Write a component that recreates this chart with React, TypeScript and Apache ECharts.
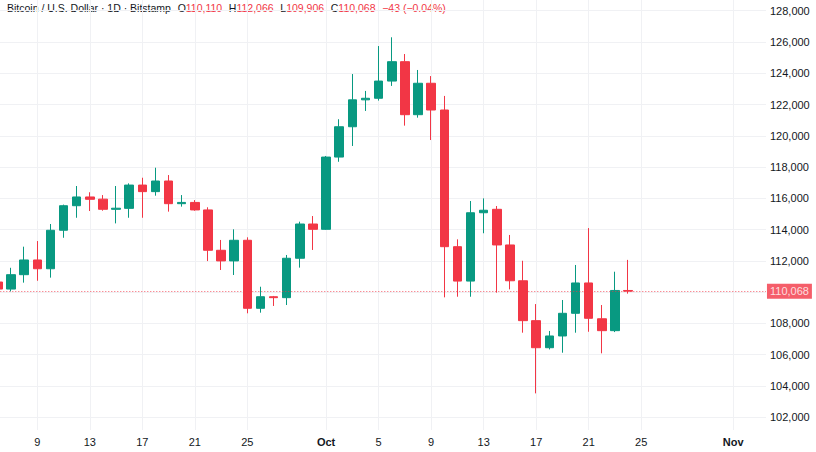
import React, { useEffect, useRef } from "react";
import * as echarts from "echarts";

// ---- data ----
const candleDates = [
  "2025-09-06","2025-09-07","2025-09-08","2025-09-09","2025-09-10","2025-09-11","2025-09-12",
  "2025-09-13","2025-09-14","2025-09-15","2025-09-16","2025-09-17","2025-09-18","2025-09-19",
  "2025-09-20","2025-09-21","2025-09-22","2025-09-23","2025-09-24","2025-09-25","2025-09-26",
  "2025-09-27","2025-09-28","2025-09-29","2025-09-30","2025-10-01","2025-10-02","2025-10-03",
  "2025-10-04","2025-10-05","2025-10-06","2025-10-07","2025-10-08","2025-10-09","2025-10-10",
  "2025-10-11","2025-10-12","2025-10-13","2025-10-14","2025-10-15","2025-10-16","2025-10-17",
  "2025-10-18","2025-10-19","2025-10-20","2025-10-21","2025-10-22","2025-10-23","2025-10-24",
];
const opens = [
  110650,110200,111120,112060,111500,113960,115530,
  116090,115950,115300,115360,116850,116430,117110,
  115660,115740,115260,112680,112000,113320,108970,
  109710,109650,112170,114360,114020,118640,120580,
  122300,122400,123500,124740,121350,123360,121650,
  112910,110710,115080,115300,113020,110730,108180,
  106450,107200,108650,110590,108300,107540,110110,
];
const closes = [
  110200,111120,112060,111500,113960,115530,116090,
  115940,115300,115370,116850,116430,117110,115660,
  115740,115260,112680,112000,113320,108970,109710,
  109650,112170,114360,114020,118640,120580,122300,
  122400,123500,124740,121350,123360,121650,112910,
  110710,115080,115240,113020,110730,108180,106450,
  107200,108650,110590,108330,107540,110111,110068,
];
const lows = [
  110000,110050,110610,110730,110930,113480,114760,
  115190,115210,114400,114760,114760,116170,115150,
  115470,115210,111990,111420,111100,108650,108690,
  109120,109180,111570,112700,113990,118340,119350,
  121590,122250,123190,120650,121160,119730,109670,
  109710,109710,113770,109970,110180,107410,103530,
  106340,106130,107410,107470,106090,107450,109906,
];
const highs = [
  110900,111560,112910,113270,114360,115600,116790,
  116390,116210,116790,116960,117320,117960,117490,
  116210,115890,115430,113340,114020,113510,110350,
  109760,112380,114510,114870,118710,121060,123950,
  122870,125740,126300,125230,124210,123820,122550,
  113380,115830,116000,115510,113660,112010,109240,
  107520,109500,111740,114100,109180,111310,112066,
];
const axisStart = "2025-09-06";
const axisEnd = "2025-11-03";
const tickDates = [
  "2025-09-09","2025-09-13","2025-09-17","2025-09-21","2025-09-25",
  "2025-10-01","2025-10-05","2025-10-09","2025-10-13","2025-10-17",
  "2025-10-21","2025-10-25","2025-11-01",
];
const yMin = 102000;
const yMax = 128000;
const yStep = 2000;
const MONTHS = ["Jan","Feb","Mar","Apr","May","Jun","Jul","Aug","Sep","Oct","Nov","Dec"];

// ---- style / layout ----
const UP = "#089981";
const DOWN = "#F23645";
const TEXT = "#131722";
const GRIDC = "#f0f1f4";
const FONT = "'Liberation Sans', Arial, sans-serif";
const SHIFT = 20; // chart div starts SHIFT px left of the page edge
const BAND = 13.13;
const GRID_LEFT = -8.7 + SHIFT;

function buildAxisDates(): string[] {
  const out: string[] = [];
  const d = new Date(axisStart + "T00:00:00Z");
  const end = new Date(axisEnd + "T00:00:00Z");
  while (d.getTime() <= end.getTime()) {
    out.push(d.toISOString().slice(0, 10));
    d.setUTCDate(d.getUTCDate() + 1);
  }
  return out;
}

const fmt = (v: number) => Math.round(v).toLocaleString("en-US");

export default function App() {
  const ref = useRef<HTMLDivElement>(null);
  useEffect(() => {
    if (!ref.current) return;
    const chart = echarts.init(ref.current, null, { renderer: "svg" });
    const axisDates = buildAxisDates();
    const tickSet = new Set(tickDates);
    const n = axisDates.length;
    const candleData = candleDates.map((_, i) => [opens[i], closes[i], lows[i], highs[i]]);
    const last = candleDates.length - 1;
    const lastClose = closes[last];
    const change = closes[last] - closes[last - 1];
    const pct = (change / closes[last - 1]) * 100;
    const sign = (v: number) => (v < 0 ? "\u2212" : "+");
    const chg = `${sign(change)}${Math.abs(change).toFixed(0)} (${sign(change)}${Math.abs(pct).toFixed(2)}%)`;

    const labelFormatter = (v: string) => {
      const [, m, d] = v.split("-");
      if (d === "01") return `{b|${MONTHS[parseInt(m, 10) - 1]}}`;
      return String(parseInt(d, 10));
    };

    const option: any = {
      animation: false,
      backgroundColor: "#ffffff",
      textStyle: { fontFamily: FONT },
      grid: [
        { left: GRID_LEFT, width: BAND * n, top: 10.7, height: 406.6 },
        { left: GRID_LEFT + BAND / 2, width: BAND * (n - 1), top: 0, height: 430 },
      ],
      xAxis: [
        {
          type: "category",
          gridIndex: 0,
          data: axisDates,
          boundaryGap: true,
          axisLine: { show: false },
          axisTick: { show: false },
          splitLine: { show: false },
          axisLabel: {
            interval: (_i: number, v: string) => tickSet.has(v),
            formatter: labelFormatter,
            margin: 19,
            color: TEXT,
            fontSize: 11,
            fontFamily: FONT,
            rich: { b: { fontWeight: "bold", fontSize: 11, color: TEXT, fontFamily: FONT } },
          },
        },
        {
          type: "category",
          gridIndex: 1,
          data: axisDates,
          boundaryGap: false,
          axisLine: { show: false },
          axisTick: { show: false },
          axisLabel: { show: false },
          splitLine: {
            show: true,
            interval: (_i: number, v: string) => tickSet.has(v),
            lineStyle: { color: GRIDC, width: 1 },
          },
        },
      ],
      yAxis: [
        {
          type: "value",
          gridIndex: 0,
          position: "right",
          min: yMin,
          max: yMax,
          interval: yStep,
          axisLine: { show: false },
          axisTick: { show: false },
          splitLine: { show: true, lineStyle: { color: GRIDC, width: 1 } },
          axisLabel: {
            margin: 4,
            color: TEXT,
            fontSize: 11,
            fontFamily: FONT,
            formatter: (v: number) => (Math.abs(v - lastClose) < 700 ? "" : fmt(v)),
          },
        },
        { type: "value", gridIndex: 1, show: false, min: 0, max: 1 },
      ],
      series: [
        {
          type: "candlestick",
          xAxisIndex: 0,
          yAxisIndex: 0,
          data: candleData,
          barWidth: 9,
          itemStyle: {
            color: UP,
            color0: DOWN,
            borderColor: UP,
            borderColor0: DOWN,
            borderWidth: 1,
          },
          markLine: {
            silent: true,
            symbol: ["none", "none"],
            data: [{ yAxis: lastClose }],
            lineStyle: { type: [1, 2], color: DOWN, width: 1, opacity: 0.8 },
            label: {
              show: true,
              position: "end",
              distance: 1,
              formatter: fmt(lastClose),
              backgroundColor: DOWN,
              color: "#ffffff",
              padding: [2, 3, 2, 3],
              fontSize: 11,
              fontFamily: FONT,
            },
          },
        },
      ],
      graphic: [
        {
          type: "text",
          left: 7 + SHIFT,
          top: 2,
          style: {
            text:
              `{t|Bitcoin / U.S. Dollar \u00b7 1D \u00b7 Bitstamp}  ` +
              `{t|O}{v|${fmt(opens[last])}}  {t|H}{v|${fmt(highs[last])}}  ` +
              `{t|L}{v|${fmt(lows[last])}}  {t|C}{v|${fmt(closes[last])}}  {v|${chg}}`,
            rich: {
              t: { fill: TEXT, fontSize: 10.5, fontFamily: FONT },
              v: { fill: DOWN, fontSize: 10.5, fontFamily: FONT },
            },
          },
        },
      ],
    };
    chart.setOption(option);
    return () => chart.dispose();
  }, []);
  return (
    <div
      ref={ref}
      style={{ position: "absolute", left: -SHIFT, top: 0, width: 816 + SHIFT, height: 452 }}
    />
  );
}
